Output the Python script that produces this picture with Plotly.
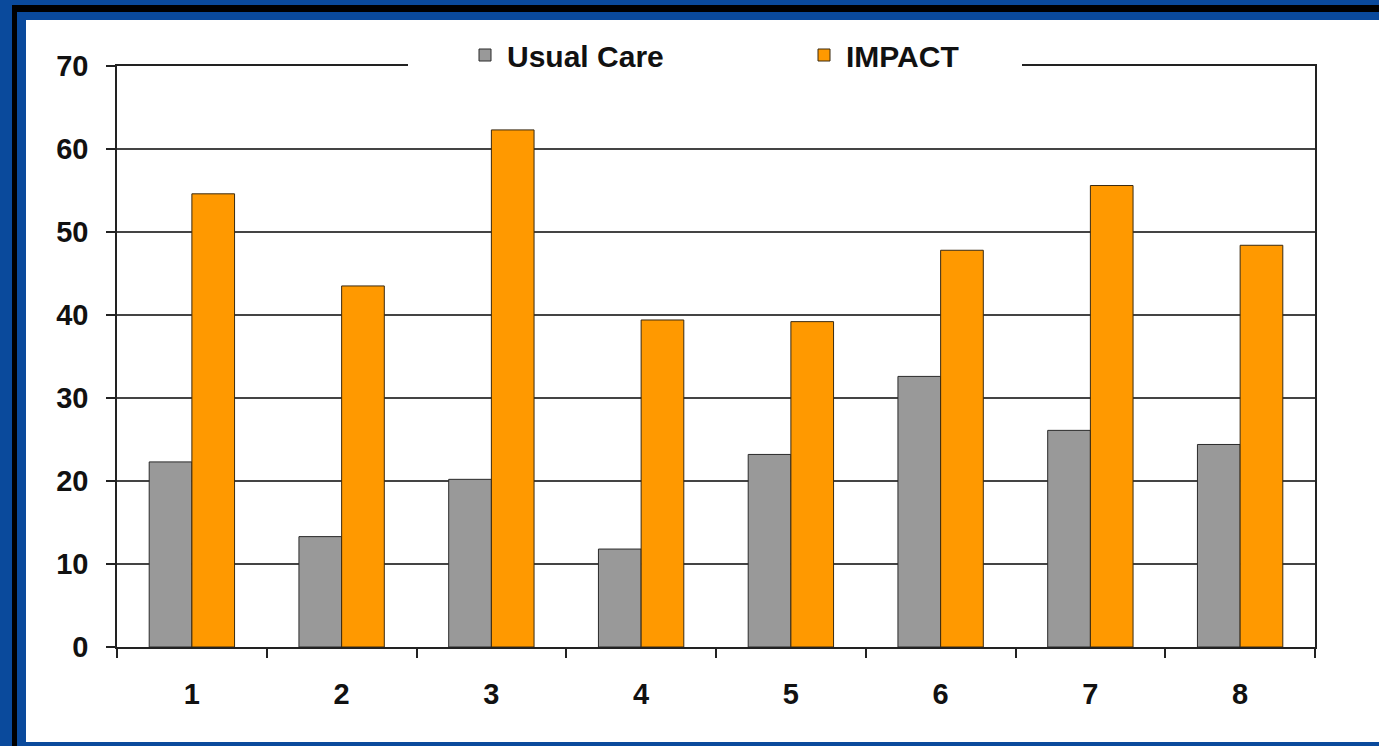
import plotly.graph_objects as go

categories = ["1", "2", "3", "4", "5", "6", "7", "8"]
usual_care = [22.3, 13.3, 20.2, 11.8, 23.2, 32.6, 26.1, 24.4]
impact = [54.6, 43.5, 62.3, 39.4, 39.2, 47.8, 55.6, 48.4]
series_names = ["Usual Care", "IMPACT"]
y_ticks = [0, 10, 20, 30, 40, 50, 60, 70]

W, H = 1379, 746
ML, MR, MT, MB = 117, 64, 66, 99
PW = W - ML - MR
PH = H - MT - MB


def px_x(p):
    return (p - ML) / PW


def px_y(p):
    return (H - MB - p) / PH


BLUE = "#0a4a9c"
FONT = "Liberation Sans"

fig = go.Figure()
fig.add_trace(go.Bar(x=categories, y=usual_care, name=series_names[0],
                     marker=dict(color="#999999", line=dict(color="#2a2a2a", width=1))))
fig.add_trace(go.Bar(x=categories, y=impact, name=series_names[1],
                     marker=dict(color="#FF9900", line=dict(color="#3a2a10", width=1))))

shapes = [
    dict(type="rect", xref="paper", yref="paper", layer="below",
         x0=px_x(12), x1=px_x(17), y0=px_y(5), y1=px_y(H + 5),
         fillcolor="#000000", line=dict(width=0)),
    dict(type="rect", xref="paper", yref="paper", layer="below",
         x0=px_x(12), x1=px_x(W + 5), y0=px_y(5), y1=px_y(12),
         fillcolor="#000000", line=dict(width=0)),
    dict(type="rect", xref="paper", yref="paper", layer="below",
         x0=px_x(26), x1=px_x(W + 5), y0=px_y(20), y1=px_y(742),
         fillcolor="#ffffff", line=dict(width=0)),
    # white gap behind the legend, interrupting the top border line
    dict(type="rect", xref="paper", yref="paper", layer="above",
         x0=px_x(408), x1=px_x(1022), y0=px_y(40), y1=px_y(72),
         fillcolor="#ffffff", line=dict(width=0)),
]

fig.update_layout(
    width=W, height=H,
    margin=dict(l=ML, r=MR, t=MT, b=MB, pad=0),
    paper_bgcolor=BLUE,
    plot_bgcolor="#ffffff",
    barmode="group",
    bargap=0.43,
    bargroupgap=0,
    shapes=shapes,
    font=dict(family=FONT, size=29, color="#111111"),
    showlegend=True,
    legend=dict(orientation="h", x=px_x(802), xanchor="center", y=px_y(55), yanchor="middle",
                bgcolor="rgba(0,0,0,0)", font=dict(family=FONT, size=30, color="#111111", weight="bold"),
                entrywidth=290, itemwidth=34),
    xaxis=dict(
        type="category", showline=True, linecolor="#222222", linewidth=1.5, mirror=True,
        ticks="outside", ticklen=9, tickcolor="#222222", tickwidth=1.5,
        tickson="boundaries", showgrid=False,
        tickfont=dict(family=FONT, size=29, weight="bold", color="#111111"),
        ticklabelstandoff=20,
    ),
    yaxis=dict(
        range=[0, 70], tickvals=y_ticks, ticktext=[str(v) for v in y_ticks],
        showline=True, linecolor="#222222", linewidth=1.5, mirror=True,
        ticks="outside", ticklen=9, tickcolor="#222222", tickwidth=1.5,
        showgrid=True, gridcolor="#444444", gridwidth=1.5, zeroline=False,
        tickfont=dict(family=FONT, size=29, weight="bold", color="#111111"),
        ticklabelstandoff=12,
    ),
)

fig.write_html("out.html", config={"displayModeBar": False},
               post_script="document.body.style.margin='0';document.body.style.overflow='hidden';")
